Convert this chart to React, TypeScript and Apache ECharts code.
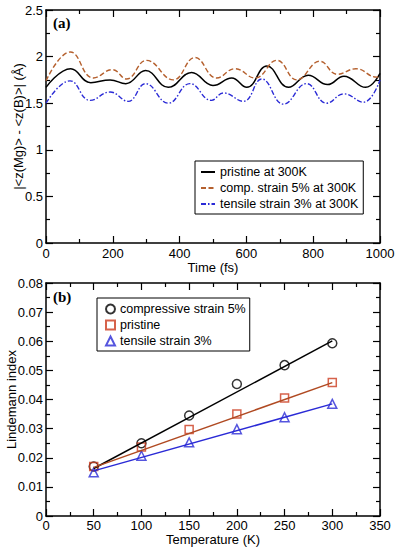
import React, { useEffect, useRef } from "react";
import * as echarts from "echarts";

// ---- Panel (a): time series (time fs, value Å), read at extrema ----
const pristineT = [0, 74, 134, 192, 239, 298, 366, 436, 500, 556, 601, 661, 726, 785, 843, 892, 957, 1000];
const pristineV = [1.67, 1.87, 1.72, 1.75, 1.71, 1.85, 1.67, 1.83, 1.69, 1.77, 1.67, 1.90, 1.67, 1.80, 1.70, 1.79, 1.67, 1.82];

const compT = [0, 73, 142, 199, 241, 301, 381, 446, 511, 566, 626, 691, 751, 820, 872, 928, 990, 1000];
const compV = [1.74, 2.05, 1.77, 1.86, 1.76, 1.96, 1.75, 1.99, 1.77, 1.87, 1.77, 1.96, 1.75, 1.95, 1.81, 1.87, 1.78, 1.80];

const tensT = [0, 72, 132, 192, 246, 298, 366, 431, 495, 531, 591, 646, 711, 780, 840, 892, 950, 1000];
const tensV = [1.5, 1.74, 1.53, 1.62, 1.52, 1.71, 1.5, 1.71, 1.53, 1.61, 1.52, 1.76, 1.49, 1.71, 1.5, 1.6, 1.51, 1.75];

// ---- Panel (b): Lindemann index vs temperature ----
const temps = [50, 100, 150, 200, 250, 300];
const compLI = [0.017, 0.025, 0.0345, 0.0453, 0.0518, 0.0593];
const pristLI = [0.017, 0.0237, 0.0297, 0.035, 0.0405, 0.0458];
const tensLI = [0.015, 0.0207, 0.0253, 0.0298, 0.0339, 0.0385];
const fitT = [50, 300];
const compFit = [0.0163, 0.0601];
const pristFit = [0.0167, 0.0458];
const tensFit = [0.0155, 0.0385];

const FONT = "Liberation Sans";
const BLACK = "#000";
const BROWN = "#b5602e";
const RED = "#cc3b1e";
const BROWNFIT = "#b04a22";
const BLUE = "#2a2ad6";

const zip = (a: number[], b: number[]) => a.map((x, i) => [x, b[i]]);
const plain = (v: number) => String(v);

function mainX(gridIndex: number, min: number, max: number, interval: number, name: string, nameGap: number, labelMargin: number) {
  return {
    type: "value", gridIndex, min, max, interval, position: "bottom",
    name, nameLocation: "middle", nameGap, nameMoveOverlap: false,
    nameTextStyle: { fontFamily: FONT, fontSize: 13, color: BLACK },
    axisLine: { show: true, onZero: false, lineStyle: { color: BLACK, width: 1.5 } },
    axisTick: { show: true, inside: true, length: 7, lineStyle: { color: BLACK, width: 1.2 } },
    minorTick: { show: true, splitNumber: 2, length: 4, lineStyle: { color: BLACK, width: 1.2 } },
    axisLabel: { show: true, margin: labelMargin, fontFamily: FONT, fontSize: 13, color: BLACK, formatter: plain },
    splitLine: { show: false },
  };
}
function mirrorX(gridIndex: number, min: number, max: number, interval: number) {
  return {
    type: "value", gridIndex, min, max, interval, position: "top",
    axisLine: { show: true, onZero: false, lineStyle: { color: BLACK, width: 1.5 } },
    axisTick: { show: true, inside: true, length: 7, lineStyle: { color: BLACK, width: 1.2 } },
    minorTick: { show: true, splitNumber: 2, length: 4, lineStyle: { color: BLACK, width: 1.2 } },
    axisLabel: { show: false },
    splitLine: { show: false },
  };
}
function mainY(gridIndex: number, min: number, max: number, interval: number, name: string, nameGap: number, fmt: (v: number) => string) {
  return {
    type: "value", gridIndex, min, max, interval, position: "left",
    name, nameLocation: "middle", nameGap, nameMoveOverlap: false,
    nameTextStyle: { fontFamily: FONT, fontSize: 13, color: BLACK },
    axisLine: { show: true, onZero: false, lineStyle: { color: BLACK, width: 1.5 } },
    axisTick: { show: true, inside: true, length: 7, lineStyle: { color: BLACK, width: 1.2 } },
    minorTick: { show: true, splitNumber: 2, length: 4, lineStyle: { color: BLACK, width: 1.2 } },
    axisLabel: { show: true, margin: 3, fontFamily: FONT, fontSize: 13, color: BLACK, formatter: fmt },
    splitLine: { show: false },
  };
}
function mirrorY(gridIndex: number, min: number, max: number, interval: number) {
  return {
    type: "value", gridIndex, min, max, interval, position: "right",
    axisLine: { show: true, onZero: false, lineStyle: { color: BLACK, width: 1.5 } },
    axisTick: { show: true, inside: true, length: 7, lineStyle: { color: BLACK, width: 1.2 } },
    minorTick: { show: true, splitNumber: 2, length: 4, lineStyle: { color: BLACK, width: 1.2 } },
    axisLabel: { show: false },
    splitLine: { show: false },
  };
}

export default function App() {
  const ref = useRef<HTMLDivElement>(null);
  useEffect(() => {
    document.body.style.margin = "0";
    if (!ref.current) return;
    const chart = echarts.init(ref.current, null, { renderer: "svg" });
    const fmtA = (v: number) => (v === 0 ? "0" : String(v));
    const fmtB = (v: number) => (v === 0 ? "0" : v.toFixed(2));
    chart.setOption({
      animation: false,
      backgroundColor: "#fff",
      grid: [
        { left: 46, top: 10, width: 334, height: 233, containLabel: false, outerBoundsMode: "none" },
        { left: 46, top: 283, width: 334, height: 233, containLabel: false, outerBoundsMode: "none" },
      ],
      xAxis: [
        mainX(0, 0, 1000, 200, "Time (fs)", 18, 4),
        mirrorX(0, 0, 1000, 200),
        mainX(1, 0, 350, 50, "Temperature (K)", 17, 3),
        mirrorX(1, 0, 350, 50),
      ],
      yAxis: [
        mainY(0, 0, 2.5, 0.5, "|<z(Mg)> - <z(B)>| (Å)", 21, fmtA),
        mirrorY(0, 0, 2.5, 0.5),
        mainY(1, 0, 0.08, 0.01, "Lindemann index", 28, fmtB),
        mirrorY(1, 0, 0.08, 0.01),
      ],
      legend: [
        {
          data: ["pristine at 300K", "comp. strain 5% at 300K", "tensile strain 3% at 300K"],
          orient: "vertical", left: 195, top: 161,
          padding: [4, 5, 3, 5], itemGap: 2, itemWidth: 14, itemHeight: 10,
          borderColor: BLACK, borderWidth: 1, borderRadius: 0,
          itemStyle: { opacity: 0 },
          textStyle: { fontFamily: FONT, fontSize: 12.5, color: BLACK, lineHeight: 14 },
          selectedMode: false,
        },
        {
          data: ["compressive strain 5%", "pristine", "tensile strain 3%"],
          orient: "vertical", left: 97, top: 298,
          padding: [4, 4, 3, 8], itemGap: 2, itemWidth: 9, itemHeight: 9,
          borderColor: BLACK, borderWidth: 1, borderRadius: 0,
          textStyle: { fontFamily: FONT, fontSize: 12.5, color: BLACK, lineHeight: 14 },
          selectedMode: false,
        },
      ],
      graphic: [
        {
          type: "text", x: 53, y: 15,
          style: { text: "(a)", fontSize: 15, fontWeight: "bold", fontFamily: "Liberation Serif", fill: BLACK },
        },
        {
          type: "text", x: 53, y: 289,
          style: { text: "(b)", fontSize: 15, fontWeight: "bold", fontFamily: "Liberation Serif", fill: BLACK },
        },
      ],
      series: [
        {
          name: "pristine at 300K", type: "line", xAxisIndex: 0, yAxisIndex: 0,
          data: zip(pristineT, pristineV), smooth: 0.45, symbol: "none",
          lineStyle: { color: BLACK, width: 1.5 }, itemStyle: { color: BLACK },
        },
        {
          name: "comp. strain 5% at 300K", type: "line", xAxisIndex: 0, yAxisIndex: 0,
          data: zip(compT, compV), smooth: 0.45, symbol: "none",
          lineStyle: { color: BROWN, width: 1.4, type: [5, 2.5] }, itemStyle: { color: BROWN },
        },
        {
          name: "tensile strain 3% at 300K", type: "line", xAxisIndex: 0, yAxisIndex: 0,
          data: zip(tensT, tensV), smooth: 0.45, symbol: "none",
          lineStyle: { color: BLUE, width: 1.4, type: [5, 2, 1.5, 2] }, itemStyle: { color: BLUE },
        },
        {
          name: "fit compressive", type: "line", xAxisIndex: 2, yAxisIndex: 2,
          data: zip(fitT, compFit), symbol: "none", lineStyle: { color: BLACK, width: 1.5 },
        },
        {
          name: "fit pristine", type: "line", xAxisIndex: 2, yAxisIndex: 2,
          data: zip(fitT, pristFit), symbol: "none", lineStyle: { color: BROWNFIT, width: 1.5 },
        },
        {
          name: "fit tensile", type: "line", xAxisIndex: 2, yAxisIndex: 2,
          data: zip(fitT, tensFit), symbol: "none", lineStyle: { color: BLUE, width: 1.5 },
        },
        {
          name: "compressive strain 5%", type: "scatter", xAxisIndex: 2, yAxisIndex: 2,
          data: zip(temps, compLI), symbol: "circle", symbolSize: 9,
          itemStyle: { color: "rgba(255,255,255,0)", borderColor: BLACK, borderWidth: 1.5 },
        },
        {
          name: "pristine", type: "scatter", xAxisIndex: 2, yAxisIndex: 2,
          data: zip(temps, pristLI), symbol: "rect", symbolSize: 8,
          itemStyle: { color: "rgba(255,255,255,0)", borderColor: RED, borderWidth: 1.5 },
        },
        {
          name: "tensile strain 3%", type: "scatter", xAxisIndex: 2, yAxisIndex: 2,
          data: zip(temps, tensLI), symbol: "triangle", symbolSize: 9,
          itemStyle: { color: "rgba(255,255,255,0)", borderColor: BLUE, borderWidth: 1.5 },
        },
      ],
    });
    return () => chart.dispose();
  }, []);
  return <div ref={ref} style={{ width: 397, height: 550 }} />;
}
